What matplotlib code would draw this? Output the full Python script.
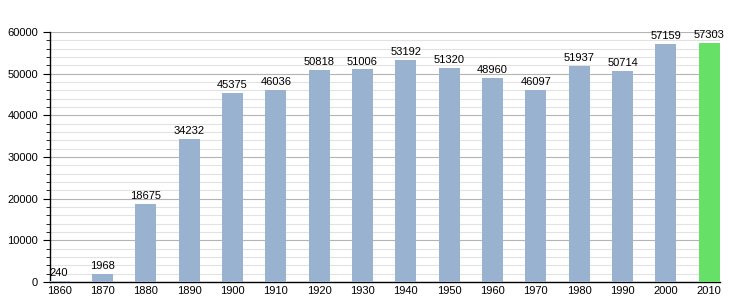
import matplotlib.pyplot as plt
import numpy as np
from matplotlib.ticker import MultipleLocator

years = [1860, 1870, 1880, 1890, 1900, 1910, 1920, 1930, 1940, 1950,
         1960, 1970, 1980, 1990, 2000, 2010]
population = [240, 1968, 18675, 34232, 45375, 46036, 50818, 51006, 53192, 51320,
              48960, 46097, 51937, 50714, 57159, 57303]
highlight_year = 2010

plt.rcParams['font.family'] = ['Liberation Sans', 'DejaVu Sans']

fig = plt.figure(figsize=(7.5, 3), dpi=100)
ax = fig.add_axes([50 / 750, 18 / 300, 670 / 750, 250 / 300])

colors = ['#66e066' if y == highlight_year else '#99b2cf' for y in years]
ax.bar(years, population, width=4.85, color=colors, zorder=3)

for y, v in zip(years, population):
    ax.text(y, v + 700, str(v), ha='center', va='bottom', fontsize=8, zorder=4)

ax.set_xlim(1857.9, 2012.5)
ax.set_ylim(0, 60000)
ax.set_xticks(years)
ax.set_xticklabels([str(y) for y in years])
ax.yaxis.set_major_locator(MultipleLocator(10000))
ax.yaxis.set_minor_locator(MultipleLocator(2000))

ax.grid(axis='y', which='major', color='#b4b4b4', linewidth=0.8, zorder=0)
ax.grid(axis='y', which='minor', color='#e2e2e2', linewidth=0.8, zorder=0)

for s in ['top', 'right']:
    ax.spines[s].set_visible(False)
ax.spines['left'].set_linewidth(1)
ax.spines['bottom'].set_linewidth(1)
ax.tick_params(axis='x', length=0, labelsize=8, pad=3)
ax.tick_params(axis='y', which='major', length=5, labelsize=8)
ax.tick_params(axis='y', which='minor', length=3)

fig.savefig('out.png', dpi=100)
